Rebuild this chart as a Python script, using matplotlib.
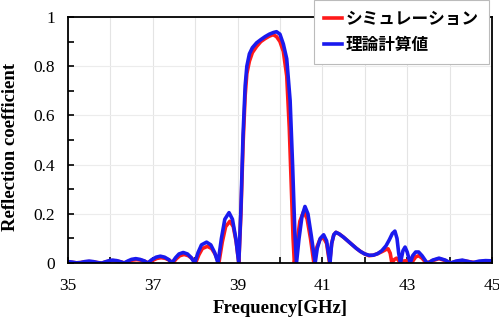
import matplotlib.pyplot as plt
from matplotlib.ticker import MultipleLocator

# theory curve (blue)
f_theory = [35.0, 35.1, 35.2, 35.3, 35.4, 35.5, 35.6, 35.7, 35.8,
            35.9, 36.0, 36.05, 36.15, 36.25, 36.32,
            36.42, 36.5, 36.6, 36.7, 36.8, 36.88,
            36.98, 37.08, 37.18, 37.28, 37.38, 37.45,
            37.54, 37.62, 37.72, 37.82, 37.91, 37.99,
            38.07, 38.15, 38.27, 38.37, 38.46, 38.54,
            38.62, 38.7, 38.8, 38.88, 38.96, 39.03,
            39.08, 39.13, 39.18, 39.22, 39.28, 39.35, 39.45, 39.55, 39.65, 39.75,
            39.85, 39.92, 40.0, 40.08, 40.16, 40.24, 40.3, 40.35, 40.39,
            40.45, 40.52, 40.59, 40.66, 40.74, 40.83,
            40.88, 40.95, 41.03, 41.1, 41.18,
            41.22, 41.27, 41.32, 41.4, 41.5, 41.6, 41.7, 41.8, 41.9, 42.0,
            42.1, 42.2, 42.3, 42.4, 42.5, 42.58, 42.65, 42.71, 42.76, 42.8, 42.84,
            42.9, 42.95, 43.0, 43.07,
            43.13, 43.2, 43.27, 43.35, 43.45, 43.5,
            43.6, 43.75, 43.9, 44.02, 44.15, 44.3, 44.45, 44.55, 44.7, 44.85, 45.0]
r_theory = [0.006, 0.004, 0.001, 0.002, 0.006, 0.008, 0.006, 0.002, 0.0,
            0.006, 0.011, 0.012, 0.010, 0.005, 0.0,
            0.009, 0.015, 0.018, 0.015, 0.009, 0.0,
            0.014, 0.024, 0.028, 0.024, 0.014, 0.0,
            0.022, 0.037, 0.043, 0.037, 0.022, 0.0,
            0.043, 0.074, 0.085, 0.074, 0.043, 0.0,
            0.10, 0.178, 0.205, 0.178, 0.10, 0.0,
            0.22, 0.52, 0.72, 0.80, 0.85, 0.875, 0.895, 0.908, 0.92, 0.93,
            0.937, 0.94, 0.93, 0.89, 0.83, 0.66, 0.39, 0.13, 0.0,
            0.10, 0.19, 0.23, 0.20, 0.11, 0.0,
            0.06, 0.10, 0.115, 0.09, 0.0,
            0.08, 0.115, 0.125, 0.118, 0.105, 0.09, 0.075, 0.06, 0.047, 0.037,
            0.032, 0.032, 0.038, 0.05, 0.07, 0.095, 0.12, 0.13, 0.10, 0.04, 0.0,
            0.05, 0.065, 0.045, 0.0,
            0.03, 0.045, 0.045, 0.03, 0.005, 0.0,
            0.012, 0.02, 0.012, 0.0, 0.008, 0.012, 0.006, 0.002, 0.008, 0.01, 0.009]

# simulation curve (red)
f_sim = [35.0, 35.1, 35.2, 35.3, 35.4, 35.5, 35.6, 35.7, 35.8,
         35.9, 36.0, 36.07, 36.17, 36.27, 36.34,
         36.44, 36.52, 36.62, 36.72, 36.82, 36.9,
         37.0, 37.1, 37.2, 37.3, 37.4, 37.47,
         37.56, 37.64, 37.74, 37.84, 37.93, 38.01,
         38.09, 38.17, 38.29, 38.39, 38.48, 38.56,
         38.64, 38.72, 38.82, 38.9, 38.97, 39.03,
         39.08, 39.13, 39.18, 39.22, 39.28, 39.35, 39.45, 39.55, 39.65, 39.75,
         39.84, 39.92, 40.0, 40.08, 40.16, 40.22, 40.27, 40.31, 40.34,
         40.4, 40.47, 40.56, 40.64, 40.72, 40.8,
         40.86, 40.94, 41.02, 41.1, 41.17,
         41.22, 41.27, 41.32, 41.4, 41.5, 41.6, 41.7, 41.8, 41.9, 42.0,
         42.1, 42.2, 42.3, 42.4, 42.5, 42.55, 42.6, 42.64,
         42.7, 42.75, 42.8, 42.85, 42.9, 43.0, 43.1,
         43.2, 43.27, 43.35, 43.45,
         43.6, 43.75, 43.9, 44.02, 44.15, 44.3, 44.45, 44.6, 44.8, 45.0]
r_sim = [0.005, 0.003, 0.001, 0.002, 0.005, 0.006, 0.005, 0.002, 0.0,
         0.005, 0.009, 0.010, 0.008, 0.004, 0.0,
         0.007, 0.012, 0.014, 0.012, 0.007, 0.0,
         0.011, 0.019, 0.022, 0.019, 0.011, 0.0,
         0.018, 0.030, 0.035, 0.030, 0.018, 0.0,
         0.034, 0.059, 0.068, 0.059, 0.034, 0.0,
         0.085, 0.148, 0.17, 0.148, 0.085, 0.0,
         0.20, 0.48, 0.68, 0.77, 0.82, 0.855, 0.88, 0.90, 0.912, 0.922,
         0.928, 0.92, 0.90, 0.86, 0.76, 0.55, 0.30, 0.10, 0.0,
         0.08, 0.17, 0.21, 0.18, 0.10, 0.0,
         0.06, 0.095, 0.105, 0.08, 0.0,
         0.08, 0.115, 0.125, 0.118, 0.105, 0.09, 0.075, 0.06, 0.047, 0.037,
         0.03, 0.032, 0.038, 0.046, 0.055, 0.058, 0.04, 0.0,
         0.015, 0.02, 0.01, 0.0, 0.008, 0.01, 0.0,
         0.025, 0.03, 0.02, 0.0,
         0.01, 0.018, 0.01, 0.0, 0.006, 0.01, 0.006, 0.002, 0.007, 0.008]

labels = ['シミュレーション', '理論計算値']
x_ticks = [35, 37, 39, 41, 43, 45]
y_ticks = [0, 0.2, 0.4, 0.6, 0.8, 1.0]
y_tick_labels = ['0', '0.2', '0.4', '0.6', '0.8', '1']

plt.rcParams['font.family'] = ['Liberation Serif', 'Noto Sans CJK JP']

fig = plt.figure(figsize=(4.99, 3.26), dpi=100)
ax = fig.add_axes([0.136, 0.193, 0.850, 0.755])

ax.plot(f_sim, r_sim, color='#ff1a1a', lw=2.6, label=labels[0])
ax.plot(f_theory, r_theory, color='#1a1aee', lw=2.6, label=labels[1])

ax.set_xlim(35, 45)
ax.set_ylim(0, 1)
ax.set_xticks(x_ticks)
ax.xaxis.set_minor_locator(MultipleLocator(1))
ax.set_yticks(y_ticks, y_tick_labels)
ax.yaxis.set_minor_locator(MultipleLocator(0.1))
ax.grid(True, which='both', axis='x', color='#e4e4e4', lw=0.8)
ax.grid(True, which='major', axis='y', color='#ececec', lw=0.8)
ax.set_axisbelow(True)

ax.tick_params(axis='x', which='both', direction='in', length=4, width=1.2, labelsize=12.5, pad=11)
ax.tick_params(axis='y', which='both', direction='in', length=4, width=1.2, labelsize=12.5, pad=9)
for s in ax.spines.values():
    s.set_linewidth(1.3)

ax.set_xlabel('Frequency[GHz]', fontsize=13.5, fontweight='bold', labelpad=4)
ax.set_ylabel('Reflection coefficient', fontsize=13.5, fontweight='bold', labelpad=3)
ax.yaxis.set_label_coords(-0.115, 0.47)

leg = ax.legend(loc='upper right', bbox_to_anchor=(489 / 499, 1.0),
                bbox_transform=fig.transFigure,
                prop={'family': ['Noto Sans CJK JP'], 'weight': 'bold', 'size': 12},
                handlelength=1.1, handletextpad=0.25, borderpad=0.6, labelspacing=0.45,
                fancybox=False, framealpha=1, edgecolor='#bbbbbb', borderaxespad=0)
leg.get_frame().set_linewidth(0.8)

fig.savefig('out.png', dpi=100)
